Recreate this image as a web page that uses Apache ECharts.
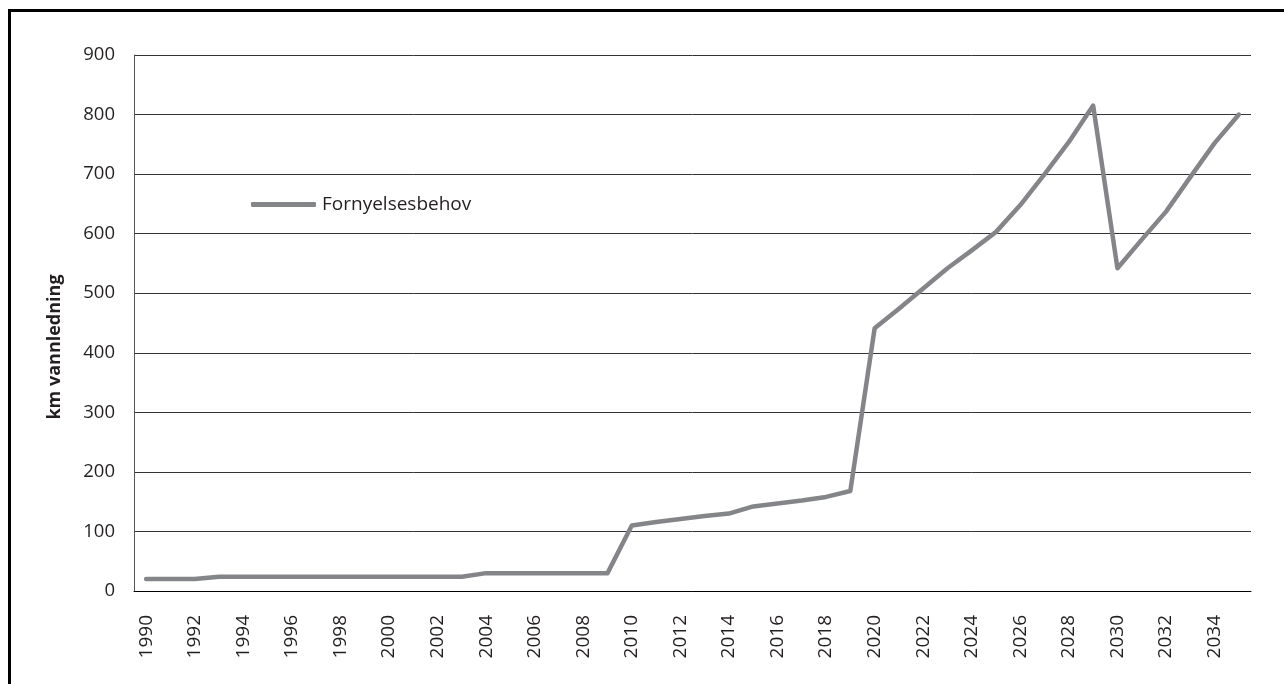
<!DOCTYPE html>
<html>
<head>
<meta charset="utf-8">
<title>Fornyelsesbehov</title>
<script src="https://cdn.jsdelivr.net/npm/echarts@6/dist/echarts.min.js"></script>
<style>
    html, body { margin: 0; padding: 0; background: #fff; }
    #frame {
        position: absolute; left: 8px; top: 9px; right: 0; bottom: 0;
        border-top: 3px solid #000; border-left: 3px solid #000;
    }
    #main { position: absolute; left: 0; top: 0; width: 1284px; height: 684px; }
</style>
</head>
<body>
<div id="frame"></div>
<div id="main"></div>
<script>
// år 1990-2035
const years = [];
for (let y = 1990; y <= 2035; y++) years.push(String(y));

// km vannledning
const fornyelse = [
    20, 20, 20, 24, 24, 24, 24, 24, 24, 24,
    24, 24, 24, 24, 30, 30, 30, 30, 30, 30,
    110, 116, 121, 126, 130, 142, 147, 152, 158, 168,
    441, 474, 508, 542, 572, 603, 648, 700, 754, 815,
    542, 590, 637, 695, 752, 800
];

const yTicks = {min: 0, max: 900, interval: 100};

const fontFam = '"Open Sans", "Noto Sans", sans-serif';
const textCol = '#231f20';

const chart = echarts.init(document.getElementById('main'), null, {renderer: 'canvas'});
chart.setOption({
    backgroundColor: 'transparent',
    animation: false,
    textStyle: {fontFamily: fontFam, color: textCol},
    grid: {left: 134, right: 33, top: 55, bottom: 93, containLabel: false},
    legend: {
        left: 246, top: 190,
        icon: 'roundRect',
        itemWidth: 65, itemHeight: 5,
        itemGap: 10,
        textStyle: {fontSize: 19, color: textCol, fontFamily: fontFam, padding: [0, 0, 0, 1]},
        data: ['Fornyelsesbehov']
    },
    xAxis: {
        type: 'category',
        data: years,
        boundaryGap: true,
        axisLine: {lineStyle: {color: '#000', width: 1}},
        axisTick: {show: false},
        axisLabel: {
            interval: 1, rotate: 90, margin: 24,
            fontSize: 19, color: textCol, fontFamily: fontFam,
            padding: [8, 0, 0, 0]
        }
    },
    yAxis: {
        type: 'value',
        min: yTicks.min, max: yTicks.max, interval: yTicks.interval,
        name: 'km vannledning',
        nameLocation: 'middle',
        nameGap: 70,
        nameRotate: 90,
        nameTextStyle: {
            fontSize: 18, fontWeight: 'bold', color: textCol, fontFamily: fontFam,
            padding: [0, 48, 0, 0]
        },
        axisLine: {show: true, lineStyle: {color: '#555', width: 1}},
        axisTick: {show: false},
        axisLabel: {margin: 19, fontSize: 18.5, color: textCol, fontFamily: fontFam},
        splitLine: {lineStyle: {color: '#333', width: 1}}
    },
    series: [{
        name: 'Fornyelsesbehov',
        type: 'line',
        data: fornyelse,
        symbol: 'none',
        lineStyle: {color: '#848588', width: 4.5, cap: 'round', join: 'round'},
        itemStyle: {color: '#848588'}
    }]
});
</script>
</body>
</html>
